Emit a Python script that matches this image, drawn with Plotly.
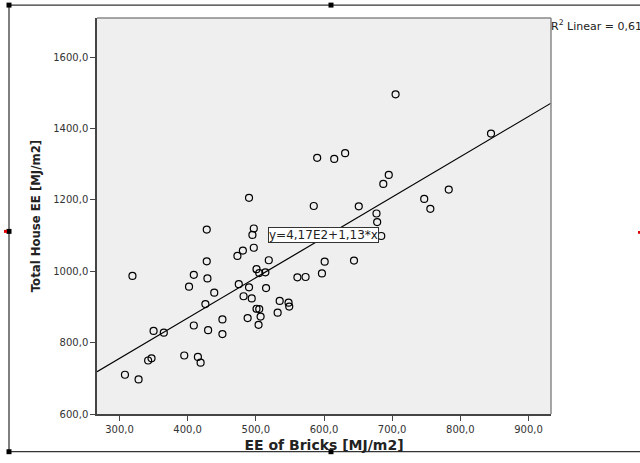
import plotly.graph_objects as go

ee_bricks = [490, 585, 428, 497, 495, 497, 481, 473, 428, 519, 319, 409, 429, 501, 505, 514,
             402, 439, 475, 490, 515, 482, 494, 426, 535, 548, 549, 501, 505, 532, 451, 488,
             507, 504, 409, 430, 451, 350, 365, 347, 342, 395, 415, 419, 308, 328, 561, 573,
             651, 677, 678, 684, 747, 756, 601, 644, 597, 705, 845, 590, 615, 631, 695, 687, 783]
total_ee = [1206, 1183, 1117, 1120, 1102, 1066, 1058, 1043, 1028, 1031, 987, 990, 980, 1006, 995, 997,
            957, 940, 964, 955, 953, 930, 924, 908, 917, 912, 901, 895, 894, 884, 865, 869,
            873, 850, 848, 835, 824, 833, 828, 756, 750, 764, 760, 744, 710, 697, 983, 984,
            1182, 1162, 1138, 1099, 1203, 1175, 1027, 1030, 994, 1496, 1386, 1318, 1315, 1331, 1270, 1245, 1229]

intercept = 417.0
slope = 1.13
x_range = [267, 933]
y_range = [600, 1710]
x_ticks = [300, 400, 500, 600, 700, 800, 900]
y_ticks = [600, 800, 1000, 1200, 1400, 1600]
fit_x = [x_range[0], x_range[1]]
fit_y = [intercept + slope * v for v in fit_x]

W, H = 640, 463
L, R, T, B = 97, 89, 18, 46
PW, PH = W - L - R, H - T - B


def px(xp):
    return (xp - L) / PW


def py(yp):
    return (H - B - yp) / PH


fig = go.Figure()
fig.add_trace(go.Scatter(x=fit_x, y=fit_y, mode="lines",
                         line=dict(color="black", width=1.2), showlegend=False, hoverinfo="skip"))
fig.add_trace(go.Scatter(x=ee_bricks, y=total_ee, mode="markers",
                         marker=dict(symbol="circle-open", size=7, color="black", line=dict(width=1.2)),
                         showlegend=False))

fig.add_annotation(x=px(323), y=py(237), xref="paper", yref="paper", text="y=4,17E2+1,13*x", showarrow=False,
                   bgcolor="white", bordercolor="#333333", borderwidth=1, borderpad=0,
                   font=dict(family="DejaVu Sans", size=12, color="#222222"))
fig.add_annotation(x=px(549), y=py(16), xref="paper", yref="paper", xanchor="left", yanchor="top",
                   text="R<sup>2</sup> Linear = 0,61", showarrow=False,
                   font=dict(family="DejaVu Sans", size=11, color="#222222"))

# outer frame and selection handles
fx0, fx1, fy0, fy1 = px(9), px(700), py(455), py(5)
fig.add_shape(type="rect", xref="paper", yref="paper", x0=fx0, x1=fx1, y0=fy0, y1=fy1,
              line=dict(color="black", width=1), layer="below")
hs_x, hs_y = 2.5 / PW, 2.5 / PH
for hx, hy in [(9, 5), (331, 5), (9, 455), (331, 455), (9, 233)]:
    fig.add_shape(type="rect", xref="paper", yref="paper", x0=px(hx) - hs_x, x1=px(hx) + hs_x,
                  y0=py(hy) - hs_y, y1=py(hy) + hs_y, fillcolor="black", line=dict(width=0))
for rx0, rx1, ry in [(4, 7, 233), (638, 641, 234)]:
    fig.add_shape(type="rect", xref="paper", yref="paper", x0=px(rx0), x1=px(rx1),
                  y0=py(ry) - 1.5 / PH, y1=py(ry) + 1.5 / PH, fillcolor="#dd0000", line=dict(width=0))

fig.update_layout(
    width=W, height=H,
    margin=dict(l=L, r=R, t=T, b=B),
    paper_bgcolor="white", plot_bgcolor="#efefef",
    font=dict(family="DejaVu Sans", color="#333333"),
    xaxis=dict(range=x_range, tickvals=x_ticks, ticktext=[f"{v},0" for v in x_ticks],
               showgrid=False, zeroline=False, showline=True, linecolor="#444444", linewidth=1.5,
               ticks="outside", ticklen=5, tickcolor="#444444",
               tickfont=dict(size=10, color="#333333"),
               title=dict(text="<b>EE of Bricks [MJ/m2]</b>", font=dict(size=14, color="#222222"), standoff=6)),
    yaxis=dict(range=y_range, tickvals=y_ticks, ticktext=[f"{v},0" for v in y_ticks],
               showgrid=False, zeroline=False, showline=True, linecolor="#444444", linewidth=1.5,
               ticks="outside", ticklen=5, tickcolor="#444444",
               tickfont=dict(size=10, color="#333333"),
               title=dict(text="<b>Total House EE [MJ/m2]</b>",
                          font=dict(size=13, family="DejaVu Sans Condensed, DejaVu Sans", color="#222222"),
                          standoff=10)),
)
fig.add_shape(type="line", xref="paper", yref="paper", x0=0, x1=1, y0=1, y1=1, line=dict(color="#888888", width=1.5))
fig.add_shape(type="line", xref="paper", yref="paper", x0=1, x1=1, y0=0, y1=1, line=dict(color="#888888", width=1.5))

fig.write_html("out.html")
